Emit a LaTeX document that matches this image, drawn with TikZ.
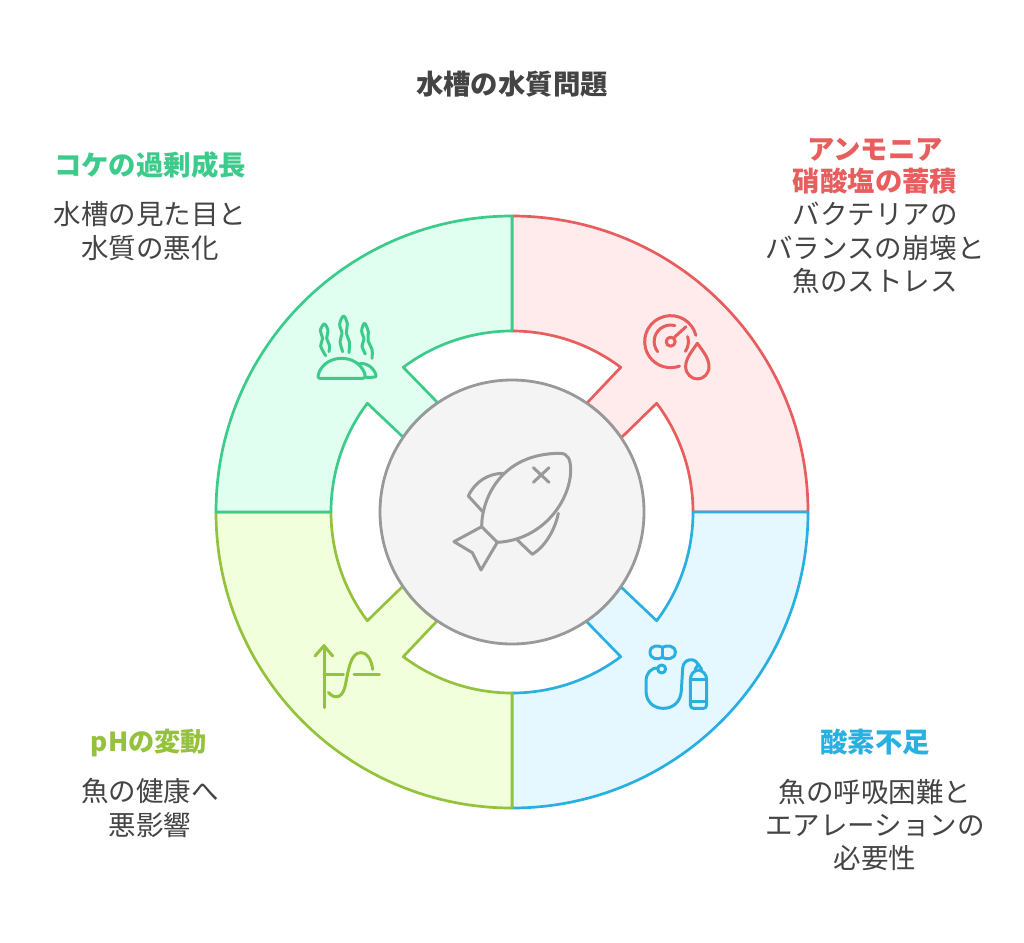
\documentclass[tikz,border=0pt]{standalone}
\usepackage{fontspec}
\setmainfont{Noto Sans CJK JP}
\definecolor{redS}{HTML}{E85D5D}\definecolor{redF}{HTML}{FFEBEB}
\definecolor{greenS}{HTML}{3CCB8A}\definecolor{greenF}{HTML}{E1FFF0}
\definecolor{blueS}{HTML}{2AB0E0}\definecolor{blueF}{HTML}{E6F8FF}
\definecolor{limeS}{HTML}{95C23D}\definecolor{limeF}{HTML}{F1FFDD}
\definecolor{coreS}{HTML}{999999}\definecolor{coreF}{HTML}{F4F4F4}
\definecolor{ink}{HTML}{444444}
\tikzset{
  seg/.style={line width=2.7pt,line join=round},
  icon/.style={line width=3pt,line cap=round,line join=round},
  body/.style={font=\fontsize{27.5}{33.3}\selectfont,text=ink,align=center,inner sep=0pt},
  head/.style={font=\bfseries\fontsize{27.4}{32.5}\selectfont,align=center,inner sep=0pt},
}
\newcommand{\segshape}[3]{%
  \draw[seg,draw=#2,fill=#3,shift={(512,512)},rotate=#1]
    (-90:296pt) arc (-90:0:296pt) -- (0:181pt) arc (0:-36.93:181pt)
    -- (-34.2:132pt) arc (-34.2:-55.5:132pt) -- (-53.07:181pt)
    arc (-53.07:-90:181pt) -- cycle;}
\begin{document}
\begin{tikzpicture}[x=1pt,y=1pt,yscale=-1]
\useasboundingbox[fill=white] (0,0) rectangle (1024,942);
\segshape{0}{redS}{redF}
\segshape{90}{blueS}{blueF}
\segshape{180}{limeS}{limeF}
\segshape{270}{greenS}{greenF}
\node[circle,draw=coreS,fill=coreF,line width=2.8pt,minimum size=264pt,inner sep=0pt] (core) at (512,512) {};
% fish
\begin{scope}[shift={(420,420)},x=0.3333pt,y=0.3333pt,icon,draw=coreS]
  \draw (185,320) .. controls (185,240) and (240,100) .. (420,100)
        .. controls (445,100) and (452,120) .. (452,150)
        .. controls (452,240) and (370,360) .. (232,367);
  \draw (185,320) -- (232,367);
  \draw (250,160) .. controls (205,160) and (165,185) .. (145,228) -- (188,275);
  \draw (415,280) .. controls (405,330) and (375,380) .. (337,403) -- (292,360);
  \draw (185,320) -- (102,365) -- (157,398) -- (183,450) -- (232,367);
  \draw (340,143) -- (387,187) (387,143) -- (340,187);
\end{scope}
% gauge and drop
\begin{scope}[shift={(620,300)},x=0.3333pt,y=0.3333pt,icon,draw=redS]
  \draw (227.7,106.1) arc (-14:-290:26pt);
  \draw (113,155) arc (142:285:16.5pt);
  \draw (203,110) arc (-17:35:17pt);
  \draw (163,112) -- (198,80);
  \draw (152,125) circle (4.5pt);
  \draw (232,130) .. controls (215,155) and (197,175) .. (197,200)
        .. controls (197,222) and (215,237) .. (232,237)
        .. controls (250,237) and (267,222) .. (267,200)
        .. controls (267,175) and (250,155) .. (232,130) -- cycle;
\end{scope}
% seaweed
\begin{scope}[shift={(312,310)},x=0.3333pt,y=0.3333pt,icon,draw=greenS]
  \draw plot[smooth,tension=0.6] coordinates {(41,137) (26,108) (32,85) (25,62) (37,42) (48,62) (44,85) (52,105) (51,125)};
  \draw plot[smooth,tension=0.6] coordinates {(92,125) (84,95) (90,70) (83,42) (95,18) (106,42) (103,70) (112,95) (111,128)};
  \draw plot[smooth,tension=0.6] coordinates {(160,132) (150,108) (156,88) (149,62) (158,40) (169,66) (168,92) (180,118) (180,145)};
\end{scope}
\begin{scope}[shift={(300,300)},x=0.3333pt,y=0.3333pt,icon,draw=greenS]
  \draw (60,235) .. controls (50,235) and (55,222) .. (58,215)
        .. controls (70,190) and (95,175) .. (125,175)
        .. controls (155,175) and (180,190) .. (192,215)
        .. controls (196,224) and (198,235) .. (188,235) -- cycle;
  \draw (175,192) .. controls (200,185) and (222,205) .. (228,225)
        .. controls (230,232) and (225,232) .. (198,232);
\end{scope}
% oxygen set
\begin{scope}[shift={(630,630)},x=0.3333pt,y=0.3333pt,icon,draw=blueS]
  \draw (97,52) .. controls (85,45) and (60,45) .. (60,67)
        .. controls (60,88) and (85,90) .. (97,82)
        .. controls (109,90) and (136,88) .. (136,67)
        .. controls (136,45) and (109,45) .. (97,52) -- cycle;
  \draw (97,52) -- (97,82);
  \draw (95,117) circle (4pt);
  \draw (84,114) .. controls (62,113) and (48,130) .. (48,155)
        -- (48,182) .. controls (48,215) and (70,235) .. (100,235)
        .. controls (130,235) and (152,215) .. (154,182)
        -- (158,115) .. controls (160,85) and (195,80) .. (205,105);
  \draw (181,150) .. controls (181,132) and (192,122) .. (205,120)
        .. controls (218,122) and (230,132) .. (230,150)
        -- (230,224) .. controls (230,232) and (226,235) .. (220,235)
        -- (191,235) .. controls (185,235) and (181,232) .. (181,224) -- cycle;
  \draw (181,148) -- (230,148) (181,213) -- (230,213);
  \draw (195,118) -- (205,103) -- (215,118);
\end{scope}
% pH curve
\begin{scope}[shift={(300,630)},x=0.3333pt,y=0.3333pt,icon,draw=limeS]
  \draw (72,233) -- (72,47);
  \draw (45,78) -- (72,47) -- (98,78);
  \draw (72,133) -- (130,133) (162,133) -- (238,133);
  \draw (85,187) .. controls (100,205) and (125,210) .. (135,170)
        .. controls (145,125) and (150,68) .. (182,68)
        .. controls (205,68) and (215,95) .. (218,118);
\end{scope}
% texts
\node[head,text=ink] (title) at (512,84) {水槽の水質問題};
\node[head,text=greenS] (h1) at (150,165) {コケの過剰成長};
\node[body] (b1) at (150,231) {水槽の見た目と\\水質の悪化};
\node[head,text=redS] (h2) at (875,166) {アンモニア\\硝酸塩の蓄積};
\node[body] (b2) at (875,248) {バクテリアの\\バランスの崩壊と\\魚のストレス};
\node[head,text=blueS] (h3) at (875,742) {酸素不足};
\node[body] (b3) at (875,825) {魚の呼吸困難と\\エアレーションの\\必要性};
\node[head,text=limeS,font=\bfseries\fontsize{26.2}{32}\selectfont] (h4) at (149,743) {pHの変動};
\node[body] (b4) at (150,808) {魚の健康へ\\悪影響};
\end{tikzpicture}
\end{document}
